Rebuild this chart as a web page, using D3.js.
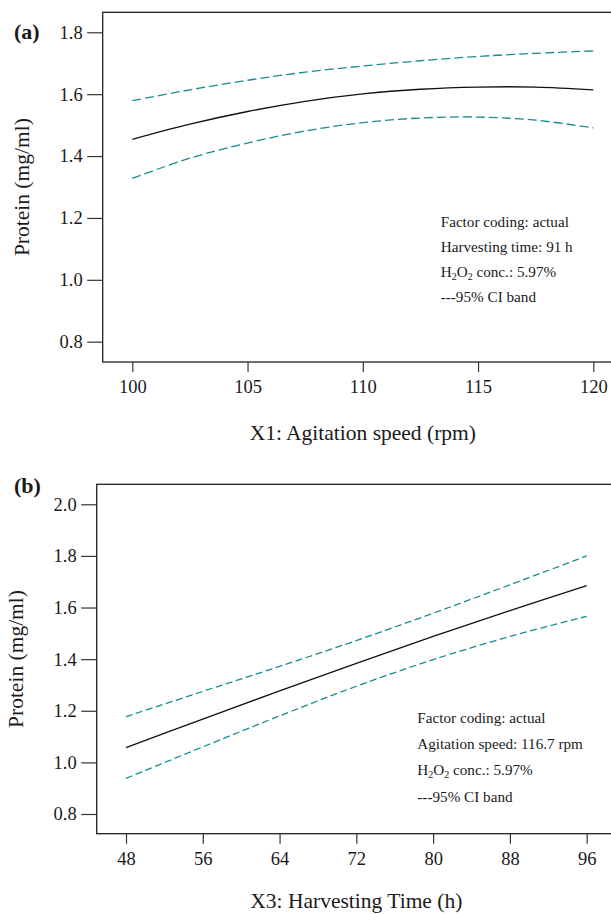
<!DOCTYPE html>
<html>
<head>
<meta charset="utf-8">
<script src="https://cdn.jsdelivr.net/npm/d3@7"></script>
<style>
  html, body { margin: 0; padding: 0; background: #fff; }
  svg { display: block; }
  text { font-family: "Liberation Serif", "Times New Roman", serif; fill: #1a1a1a; }
</style>
</head>
<body>
<svg id="chart" width="611" height="914"></svg>
<script>
// Panel (a): protein vs agitation speed, harvesting time held at 91 h
const speedRpm      = [100, 102.5, 105, 107.5, 110, 112.5, 115, 117.5, 120];
const speedFit      = [1.454, 1.503, 1.544, 1.577, 1.601, 1.616, 1.623, 1.623, 1.614];
const speedUpper    = [1.579, 1.614, 1.645, 1.671, 1.691, 1.708, 1.722, 1.732, 1.740];
const speedLower    = [1.328, 1.393, 1.442, 1.481, 1.508, 1.523, 1.526, 1.516, 1.491];
const speedTicksX   = [100, 105, 110, 115, 120];
const speedTicksY   = [0.8, 1.0, 1.2, 1.4, 1.6, 1.8];
const speedNotes    = ["Factor coding: actual", "Harvesting time: 91 h", "H2O2 conc.: 5.97%", "---95% CI band"];

// Panel (b): protein vs harvesting time, agitation speed held at 116.7 rpm
const timeHours     = [48, 56, 64, 72, 80, 88, 96];
const timeFit       = [1.057, 1.168, 1.277, 1.384, 1.488, 1.588, 1.685];
const timeUpper     = [1.177, 1.275, 1.372, 1.472, 1.578, 1.688, 1.800];
const timeLower     = [0.938, 1.060, 1.180, 1.295, 1.398, 1.488, 1.566];
const timeTicksX    = [48, 56, 64, 72, 80, 88, 96];
const timeTicksY    = [0.8, 1.0, 1.2, 1.4, 1.6, 1.8, 2.0];
const timeNotes     = ["Factor coding: actual", "Agitation speed: 116.7 rpm", "H2O2 conc.: 5.97%", "---95% CI band"];

const svg = d3.select("#chart");
const CI_COLOR = "#1a8c8c";

function drawPanel(p) {
  const g = svg.append("g");

  const x = d3.scaleLinear().domain(p.xDomain).range([p.x0, p.x1]);
  const y = d3.scaleLinear().domain(p.yDomain).range([p.y1, p.y0]);

  // plot frame (runs off the right edge of the page)
  g.append("rect")
    .attr("x", p.left).attr("y", p.top)
    .attr("width", 640 - p.left).attr("height", p.bottom - p.top)
    .attr("fill", "none").attr("stroke", "#222").attr("stroke-width", 1.3);

  // y axis
  const yAxis = g.append("g")
    .attr("transform", `translate(${p.left},0)`)
    .call(d3.axisLeft(y).tickValues(p.yTicks).tickFormat(d3.format(".1f"))
      .tickSize(15.5).tickPadding(4.5).tickSizeOuter(0));
  yAxis.select(".domain").remove();
  yAxis.selectAll(".tick line").attr("stroke", "#333").attr("stroke-width", 1.2);
  yAxis.selectAll(".tick text")
    .attr("font-family", "Liberation Serif, serif")
    .attr("font-size", 18.5).attr("fill", "#1a1a1a");

  // x axis
  const xAxis = g.append("g")
    .attr("transform", `translate(0,${p.bottom})`)
    .call(d3.axisBottom(x).tickValues(p.xTicks).tickFormat(d3.format("d"))
      .tickSize(10).tickPadding(8).tickSizeOuter(0));
  xAxis.select(".domain").remove();
  xAxis.selectAll(".tick line").attr("stroke", "#333").attr("stroke-width", 1.2);
  xAxis.selectAll(".tick text")
    .attr("font-family", "Liberation Serif, serif")
    .attr("font-size", 18.5).attr("fill", "#1a1a1a");

  // curves
  const line = d3.line()
    .x((d, i) => x(p.xs[i]))
    .y(d => y(d))
    .curve(d3.curveCatmullRom.alpha(0.5));

  [p.upper, p.lower].forEach(band => {
    g.append("path").datum(band)
      .attr("d", line)
      .attr("fill", "none")
      .attr("stroke", CI_COLOR)
      .attr("stroke-width", 1.3)
      .attr("stroke-dasharray", p.dash);
  });
  g.append("path").datum(p.fit)
    .attr("d", line)
    .attr("fill", "none")
    .attr("stroke", "#111")
    .attr("stroke-width", 1.3);

  // axis titles
  g.append("text")
    .attr("x", x((p.xDomain[0] + p.xDomain[1]) / 2))
    .attr("y", p.bottom + p.xTitleGap)
    .attr("text-anchor", "middle")
    .attr("font-size", 21.5)
    .text(p.xTitle);

  g.append("text")
    .attr("transform", `translate(${p.yTitleX},${(p.top + p.bottom) / 2}) rotate(-90)`)
    .attr("text-anchor", "middle")
    .attr("font-size", 21.5)
    .text("Protein (mg/ml)");

  // panel tag
  g.append("text")
    .attr("x", 14).attr("y", p.tagY)
    .attr("font-size", 22).attr("font-weight", "bold")
    .text(p.tag);

  // notes block
  p.notes.forEach((t, i) => {
    const txt = g.append("text")
      .attr("x", p.noteX)
      .attr("y", p.noteY + i * p.noteGap)
      .attr("font-size", 15.2);
    const m = t.match(/^H2O2(.*)$/);
    if (m) {
      txt.append("tspan").text("H");
      txt.append("tspan").attr("font-size", 10).attr("dy", 3).text("2");
      txt.append("tspan").attr("dy", -3).text("O");
      txt.append("tspan").attr("font-size", 10).attr("dy", 3).text("2");
      txt.append("tspan").attr("dy", -3).text(m[1]);
    } else {
      txt.text(t);
    }
  });
}

drawPanel({
  tag: "(a)", tagY: 39,
  left: 102.7, top: 12.3, bottom: 362,
  xDomain: [100, 120], x0: 132.3, x1: 593.3,
  yDomain: [0.8, 1.8], y0: 32.3, y1: 341.7,
  xTicks: speedTicksX, yTicks: speedTicksY,
  xs: speedRpm, fit: speedFit, upper: speedUpper, lower: speedLower,
  dash: "9,4",
  xTitle: "X1: Agitation speed (rpm)", xTitleGap: 78, yTitleX: 28.5,
  notes: speedNotes, noteX: 440.7, noteY: 226.5, noteGap: 25.2
});

drawPanel({
  tag: "(b)", tagY: 493,
  left: 96.7, top: 484.3, bottom: 833.7,
  xDomain: [48, 96], x0: 126, x1: 586.7,
  yDomain: [0.8, 2.0], y0: 504.3, y1: 814,
  xTicks: timeTicksX, yTicks: timeTicksY,
  xs: timeHours, fit: timeFit, upper: timeUpper, lower: timeLower,
  dash: "7,3.5",
  xTitle: "X3: Harvesting Time (h)", xTitleGap: 74.5, yTitleX: 22.5,
  notes: timeNotes, noteX: 417.3, noteY: 722.7, noteGap: 26.3
});
</script>
</body>
</html>
